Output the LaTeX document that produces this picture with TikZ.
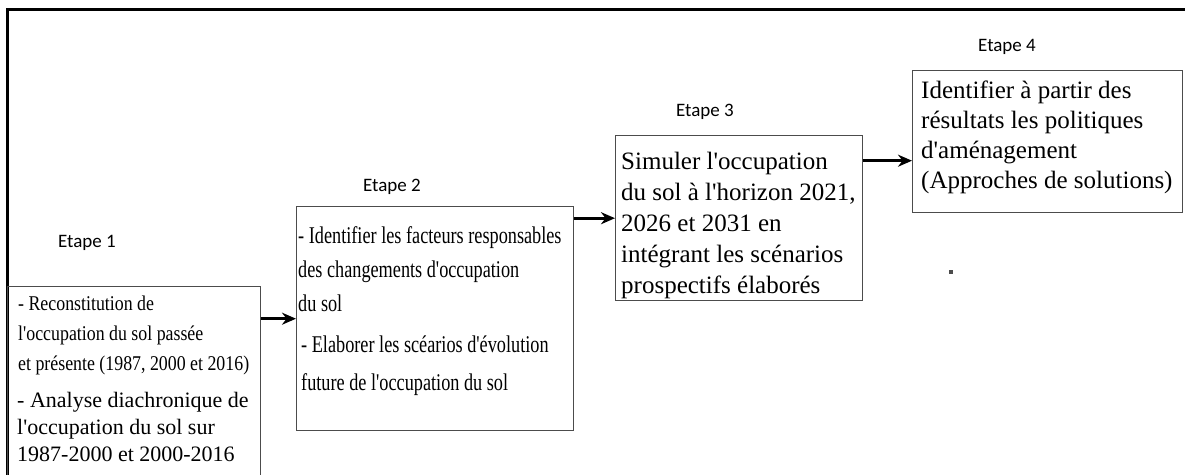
\documentclass[tikz,border=0pt]{standalone}
\usepackage{fontspec}
\setmainfont{Liberation Serif}
\newfontfamily\plainserif{Liberation Serif}
\newfontfamily\etapefont{Carlito}
\newfontfamily\narrowfont[FakeStretch=0.85]{Liberation Serif}
\newfontfamily\condfont[FakeStretch=0.76]{Liberation Serif}
\usetikzlibrary{arrows.meta}

\begin{document}
\begin{tikzpicture}[x=1pt, y=-1pt,
    stepbox/.style={draw=black!70, line width=1.4pt, anchor=north west, inner sep=0pt},
    boxtext/.style={anchor=north west, inner sep=0pt, align=left},
    etape/.style={font=\etapefont\fontsize{19}{22}\selectfont},
    arr/.style={line width=2.8pt, -{Stealth[length=14pt, width=12pt]}}]

    \useasboundingbox (0,0) rectangle (1185,474);

    % outer frame (only its top and left side are in the picture)
    \draw[line width=3pt] (7,490) -- (7,9) -- (1195,9);

    % Etape 1
    \node[etape] (e1) at (87,243) {Etape 1};
    \node[stepbox, minimum width=253pt, minimum height=210pt] (b1) at (7,286) {};
    \node[boxtext, font=\narrowfont\fontsize{21}{30}\selectfont] (t1a) at (18,296)
        {- Reconstitution de\\l'occupation du sol passée\\et présente (1987, 2000 et 2016)};
    \node[boxtext, font=\plainserif\fontsize{22}{27}\selectfont] (t1b) at (17,392)
        {- Analyse diachronique de\\l'occupation du sol sur\\1987-2000 et 2000-2016};

    % Etape 2
    \node[etape] (e2) at (392,187) {Etape 2};
    \node[stepbox, minimum width=277pt, minimum height=224pt] (b2) at (296,206) {};
    \node[boxtext, font=\condfont\fontsize{24}{34}\selectfont] (t2a) at (298,226)
        {- Identifier les facteurs responsables\\des changements d'occupation\\du sol};
    \node[boxtext, font=\condfont\fontsize{24}{38}\selectfont] (t2b) at (301,336)
        {- Elaborer les scéarios d'évolution\\future de l'occupation du sol};
    \draw[arr] (b1.east |- b2.west) -- (b2.west);

    % Etape 3
    \node[etape] (e3) at (705,112) {Etape 3};
    \node[stepbox, minimum width=247pt, minimum height=165pt] (b3) at (615,135) {};
    \node[boxtext, font=\plainserif\fontsize{25}{31}\selectfont] (t3) at (621,152)
        {Simuler l'occupation\\du sol à l'horizon 2021,\\2026 et 2031 en\\intégrant les scénarios\\prospectifs élaborés};
    \draw[arr] (b2.east |- b3.west) -- (b3.west);

    % Etape 4
    \node[etape] (e4) at (1007,47) {Etape 4};
    \node[stepbox, minimum width=270pt, minimum height=142pt] (b4) at (912,70) {};
    \node[boxtext, font=\plainserif\fontsize{25}{30}\selectfont] (t4) at (921,81)
        {Identifier à partir des\\résultats les politiques\\d'aménagement\\(Approches de solutions)};
    \coordinate (a4) at ([yshift=-19pt]b4.west);
    \draw[arr] (b3.east |- a4) -- (a4);

    % stray dot
    \fill[black!70] (949,270) rectangle (953,274);

\end{tikzpicture}
\end{document}
